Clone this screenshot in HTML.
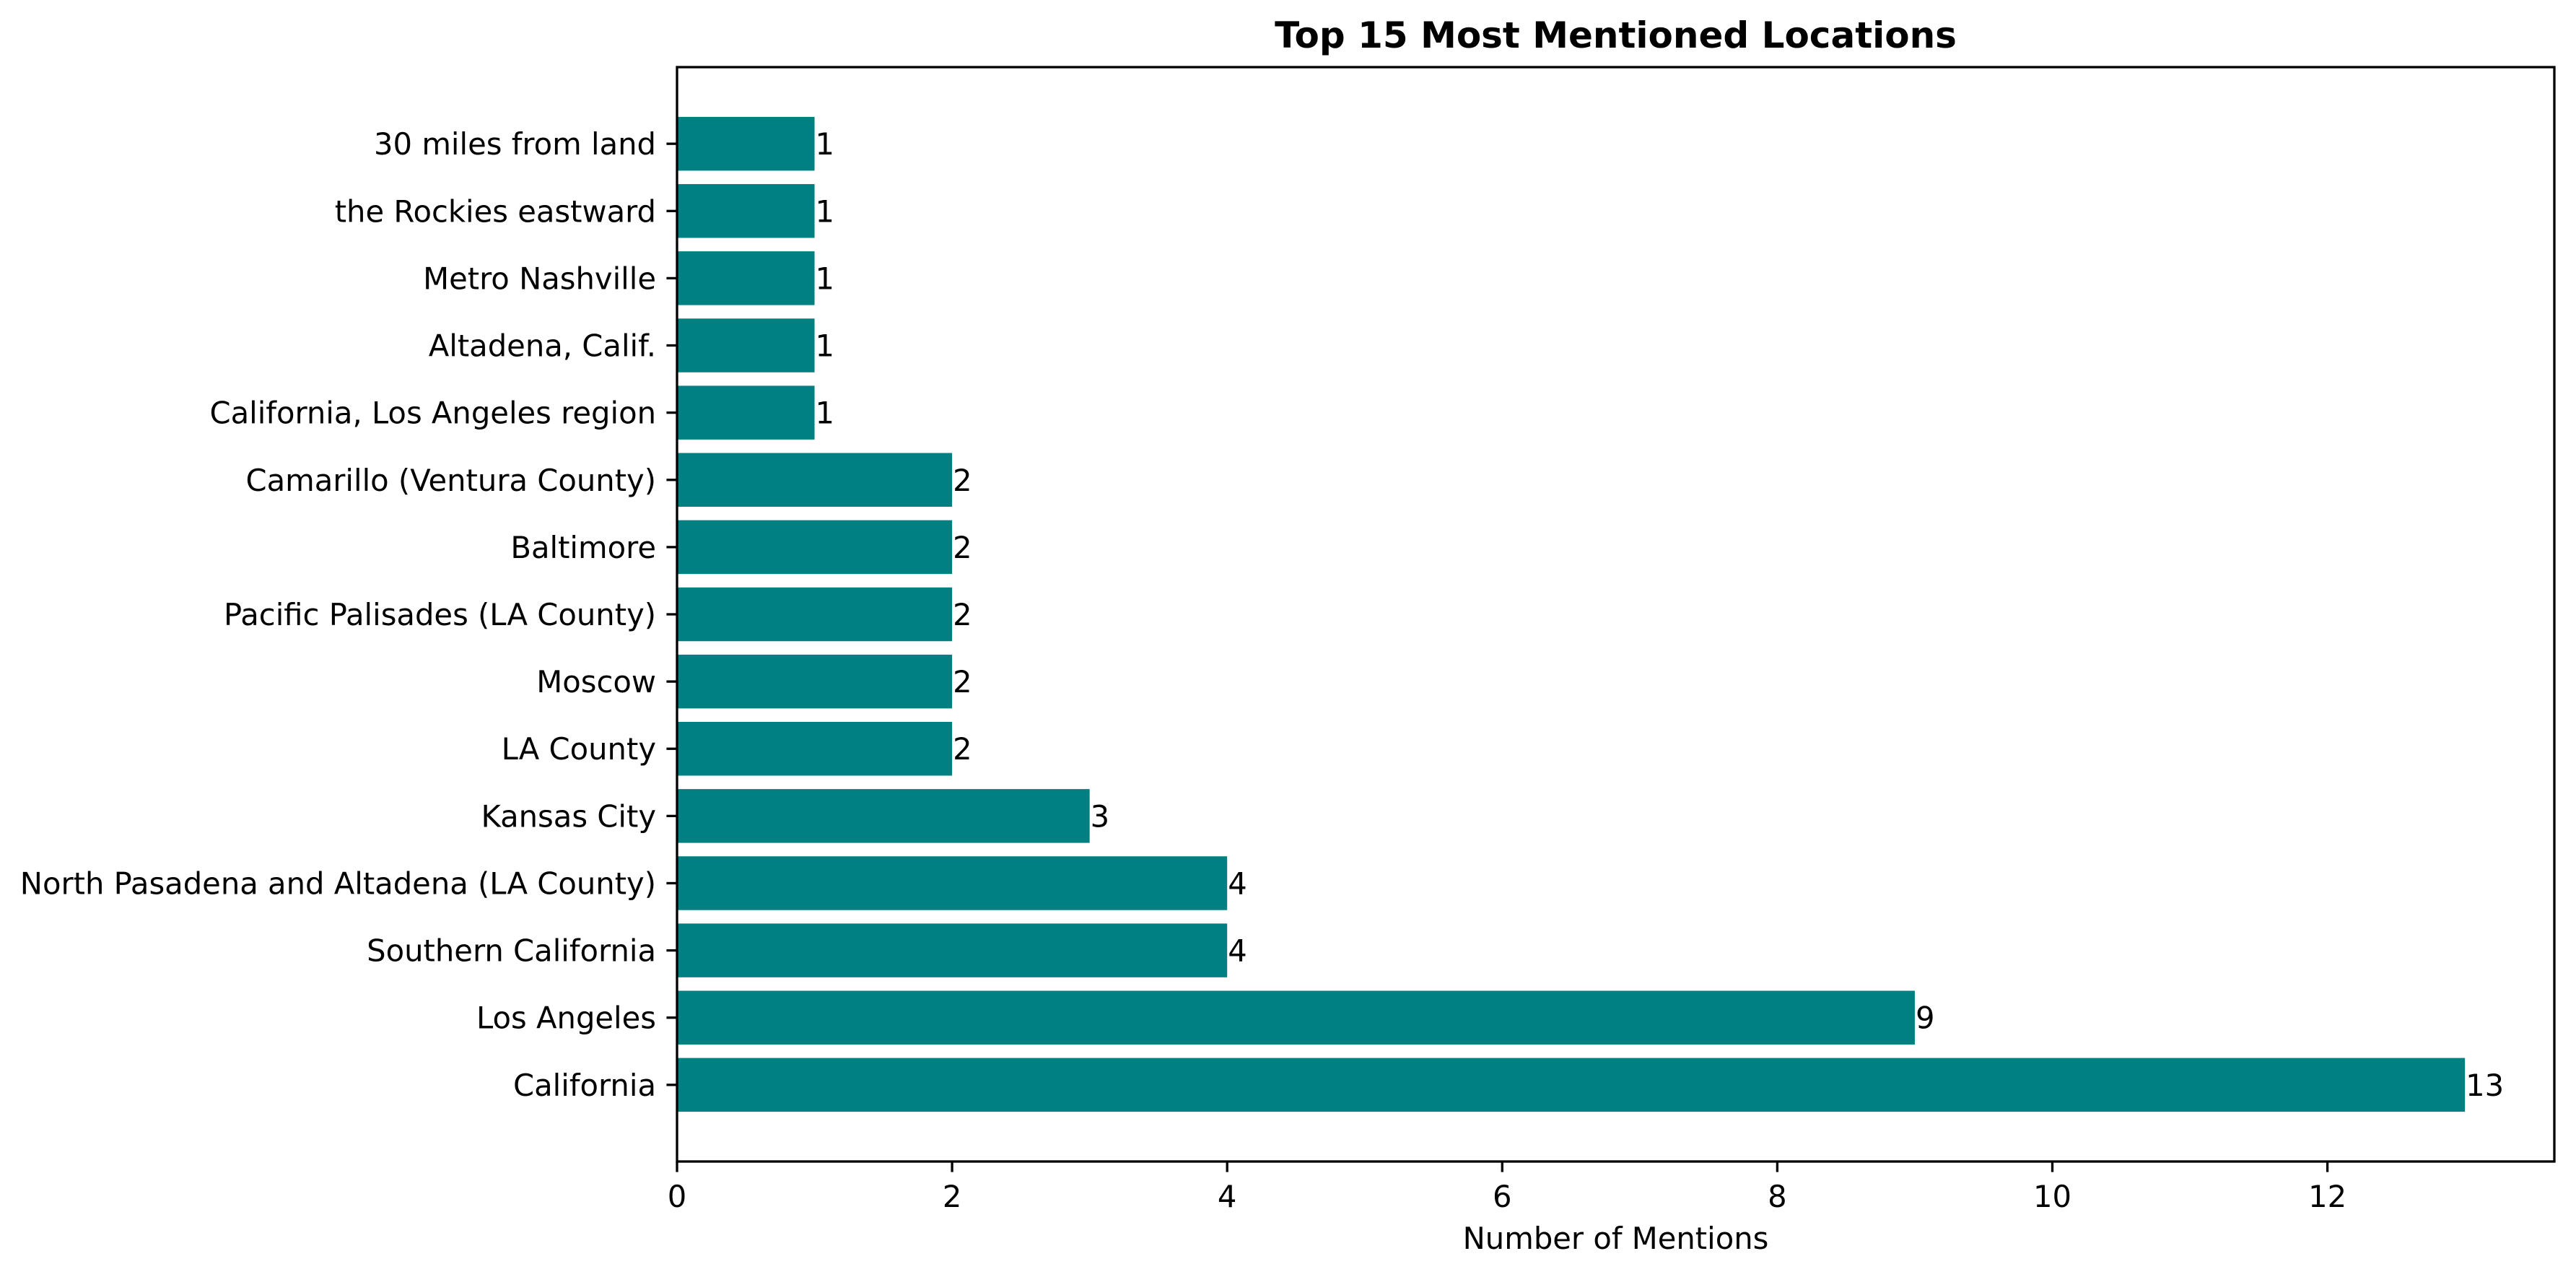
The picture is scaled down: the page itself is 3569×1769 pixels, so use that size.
<!DOCTYPE html>
<html><head><meta charset="utf-8"><style>
html,body{margin:0;padding:0;background:#fff;}
svg{display:block;font-family:"DejaVu Sans","Liberation Sans",sans-serif;}
</style></head><body>
<svg id="chart" xmlns="http://www.w3.org/2000/svg" width="3569" height="1769" viewBox="0 0 3569 1769">
<rect width="3569" height="1769" fill="#fff"/>
<g id="plot"></g>
</svg>
<script>
const categories = ["California","Los Angeles","Southern California","North Pasadena and Altadena (LA County)","Kansas City","LA County","Moscow","Pacific Palisades (LA County)","Baltimore","Camarillo (Ventura County)","California, Los Angeles region","Altadena, Calif.","Metro Nashville","the Rockies eastward","30 miles from land"];
const values = [13,9,4,4,3,2,2,2,2,2,1,1,1,1,1];
const xTicks = [0,2,4,6,8,10,12];

const L=938,R=3539,T=93,B=1609;
const NS="http://www.w3.org/2000/svg";
const g=document.getElementById('plot');
const xMax=Math.max(...values)*1.05;
const yMin=-1.14,yMax=categories.length-1+1.14;
const xs=v=>L+(v/xMax)*(R-L);
const ys=i=>B-((i-yMin)/(yMax-yMin))*(B-T);
const bh=0.8*(B-T)/(yMax-yMin);
function mk(t,a){const e=document.createElementNS(NS,t);for(const k in a)e.setAttribute(k,a[k]);g.appendChild(e);return e;}

values.forEach((v,i)=>{
  const r=mk('rect',{x:xs(0),y:ys(i)-bh/2,width:xs(v)-xs(0),height:bh,fill:'#008080'});
  
  
  const t=mk('text',{x:xs(v)+1,y:ys(i)+15,'font-size':41.7,fill:'#000'});
  t.textContent=v;
  
  
  const tk=mk('line',{x1:L,x2:L-14.6,y1:ys(i),y2:ys(i),stroke:'#000','stroke-width':3.3});
  
  
  const lb=mk('text',{x:L-29,y:ys(i)+15,'font-size':41.7,'text-anchor':'end',fill:'#000'});
  lb.textContent=categories[i];
  
  
});
xTicks.forEach(v=>{
  const tk=mk('line',{x1:xs(v),x2:xs(v),y1:B,y2:B+14.6,stroke:'#000','stroke-width':3.3});
  
  
  const lb=mk('text',{x:xs(v),y:B+63,'font-size':41.7,'text-anchor':'middle',fill:'#000'});
  lb.textContent=v;
  
  
});
const fr=mk('rect',{x:L,y:T,width:R-L,height:B-T,fill:'none',stroke:'#000','stroke-width':3.3});


const ttl=mk('text',{x:(L+R)/2,y:66,'font-size':50,'font-weight':'bold','text-anchor':'middle',fill:'#000'});
ttl.textContent='Top 15 Most Mentioned Locations';


const xl=mk('text',{x:(L+R)/2,y:1730,'font-size':41.7,'text-anchor':'middle',fill:'#000'});
xl.textContent='Number of Mentions';


</script>
</body></html>
